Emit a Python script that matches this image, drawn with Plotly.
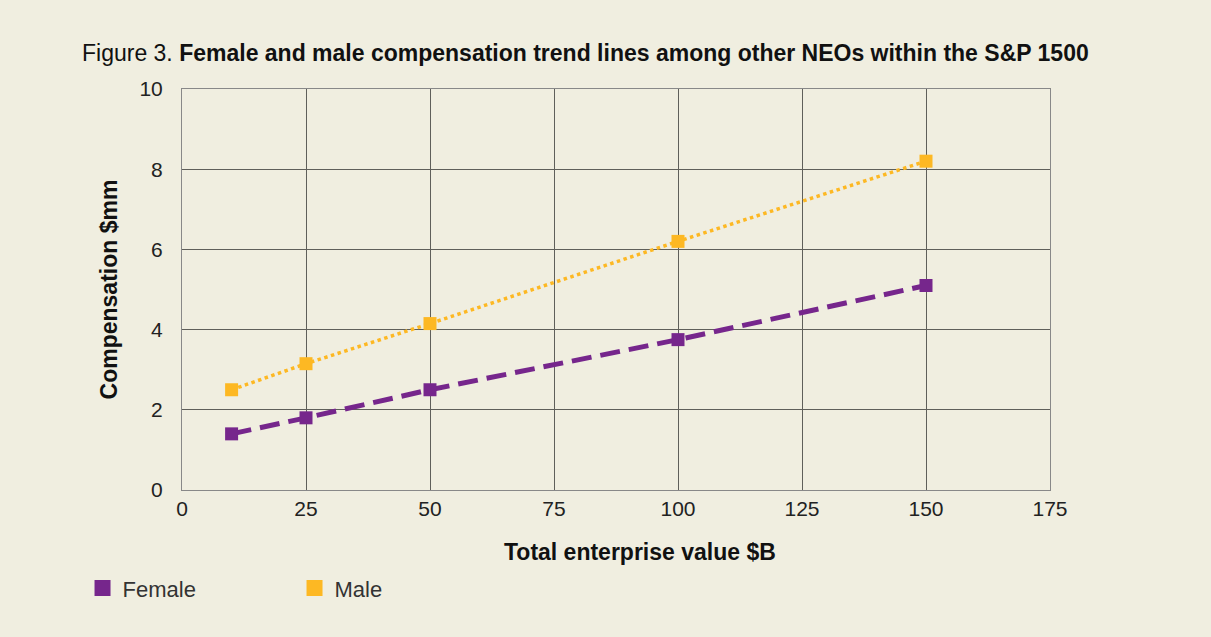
import plotly.graph_objects as go

enterprise_value = [10, 25, 50, 100, 150]
female_comp = [1.4, 1.8, 2.5, 3.75, 5.1]
male_comp = [2.5, 3.15, 4.15, 6.2, 8.2]

BG = "#F0EEE0"
PURPLE = "#76268C"
ORANGE = "#FDB823"
FONT = "Liberation Sans, Arial, sans-serif"

fig = go.Figure()
fig.add_trace(go.Scatter(x=enterprise_value, y=female_comp, mode="lines+markers",
                         line=dict(color=PURPLE, width=5, dash="20px,9px"),
                         marker=dict(symbol="square", size=13, color=PURPLE),
                         name="Female", showlegend=False))
fig.add_trace(go.Scatter(x=enterprise_value, y=male_comp, mode="lines+markers",
                         line=dict(color=ORANGE, width=3.5, dash="dot"),
                         marker=dict(symbol="square", size=13, color=ORANGE),
                         name="Male", showlegend=False))
# legend entries (square swatches only)
for nm, col in [("Female", PURPLE), ("Male", ORANGE)]:
    fig.add_trace(go.Scatter(x=[None], y=[None], mode="markers", name=nm,
                             marker=dict(symbol="square", size=19, color=col)))

fig.update_layout(
    width=1211, height=637,
    paper_bgcolor=BG, plot_bgcolor=BG,
    margin=dict(l=182, r=161, t=89, b=147),
    font=dict(family=FONT, size=21, color="#222"),
    title=dict(text="Figure 3. <b>Female and male compensation trend lines among other NEOs within the S&P 1500</b>",
               x=82/1211, xanchor="left", y=1-53/637, yanchor="middle",
               font=dict(family=FONT, size=23, color="#111")),
    xaxis=dict(range=[0, 175], tickvals=[0, 25, 50, 75, 100, 125, 150, 175],
               showgrid=True, gridcolor="#5f5f5a", gridwidth=1,
               showline=True, linecolor="#888", linewidth=1, mirror=True,
               zeroline=False, ticks="", ticklen=0,
               tickfont=dict(size=21, color="#222")),
    yaxis=dict(range=[0, 10], tickvals=[0, 2, 4, 6, 8, 10],
               showgrid=True, gridcolor="#5f5f5a", gridwidth=1,
               showline=True, linecolor="#888", linewidth=1, mirror=True,
               zeroline=False, ticks="", ticklen=0, ticklabelstandoff=14,
               tickfont=dict(size=21, color="#222"),
               title=dict(text="<b>Compensation $mm</b>", standoff=15,
                          font=dict(size=23, color="#111"))),
    legend=dict(orientation="h", x=-0.1146, xanchor="left", y=-0.245, yanchor="middle",
                entrywidth=167, entrywidthmode="pixels",
                font=dict(size=22, color="#333"), bgcolor="rgba(0,0,0,0)",
                itemsizing="trace"),
    annotations=[dict(text="<b>Total enterprise value $B</b>", xref="paper", yref="paper",
                      x=0.5276, y=-0.1546, xanchor="center", yanchor="middle",
                      showarrow=False, font=dict(family=FONT, size=23, color="#111"))],
)

fig.write_html("out.html")
